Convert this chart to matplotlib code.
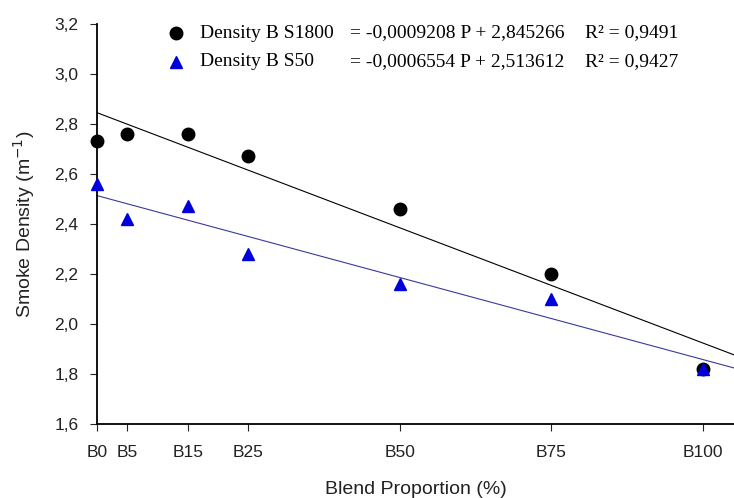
import numpy as np
import matplotlib
matplotlib.use("Agg")
import matplotlib.pyplot as plt

# blend proportion (%) and tick labels
blend = [0, 5, 15, 25, 50, 75, 100]
blend_labels = ["B0", "B5", "B15", "B25", "B50", "B75", "B100"]

# smoke density values
s1800 = [2.73, 2.76, 2.76, 2.67, 2.46, 2.20, 1.82]
s50 = [2.56, 2.42, 2.47, 2.28, 2.16, 2.10, 1.82]

# fitted equations (P in units of 0.1 %)
fit_s1800 = (-0.0009208, 2.845266, "0,9491")
fit_s50 = (-0.0006554, 2.513612, "0,9427")

plt.rcParams["font.family"] = ["Liberation Sans", "DejaVu Sans"]

fig = plt.figure(figsize=(7.34, 4.98), dpi=100)
ax = fig.add_axes([97 / 734, 74 / 498, 1 - 97 / 734, 400 / 498])

xs = np.array([0, 105.2])
ax.plot(xs, fit_s1800[1] + fit_s1800[0] * xs * 10, color="black", lw=0.8)
ax.plot(xs, fit_s50[1] + fit_s50[0] * xs * 10, color="#3a3a9a", lw=0.8)

ax.plot(blend, s1800, "o", color="black", ms=9, clip_on=False, zorder=3)
ax.plot(blend, s50, "^", color="#0000dd", ms=9, clip_on=False, zorder=3)

ax.set_xlim(0, 105.2)
ax.set_ylim(1.6, 3.2)
ax.set_xticks(blend)
ax.set_xticklabels(blend_labels)
yt = np.arange(1.6, 3.21, 0.2)
ax.set_yticks(yt)
ax.set_yticklabels([f"{v:.1f}".replace(".", ",") for v in yt])
ax.tick_params(direction="out", length=5, width=0.8, labelsize=12.5, colors="#222222", pad=8.5)
ax.tick_params(axis="x", pad=10)
for s in ["top", "right"]:
    ax.spines[s].set_visible(False)
for s in ["left", "bottom"]:
    ax.spines[s].set_linewidth(1.3)

ax.set_xlabel("Blend Proportion (%)", fontsize=14, color="#222222", labelpad=15)
ax.set_ylabel("Smoke Density (m$^{-1}$)", fontsize=14, color="#222222", labelpad=12)

# legend with equations
serif = ["Liberation Serif", "DejaVu Serif"]
rows = [("Density B S1800", fit_s1800, "o", "black", 33),
        ("Density B S50", fit_s50, "^", "#0000dd", 62)]
for name, fit, mk, col, ypix in rows:
    yf = 1 - ypix / 498
    fig.lines.append(plt.Line2D([176 / 734], [yf], marker=mk, color=col, ms=9,
                                transform=fig.transFigure, ls="none"))
    eq = "= {} P + {}".format(f"{fit[0]:.7f}".replace(".", ","), f"{fit[1]:.6f}".replace(".", ","))
    fig.text(200 / 734, yf, name, family=serif, fontsize=14, va="center")
    fig.text(350 / 734, yf, eq, family=serif, fontsize=14, va="center")
    fig.text(585 / 734, yf, "R² = " + fit[2], family=serif, fontsize=14, va="center")

fig.savefig("out.png", dpi=100)
